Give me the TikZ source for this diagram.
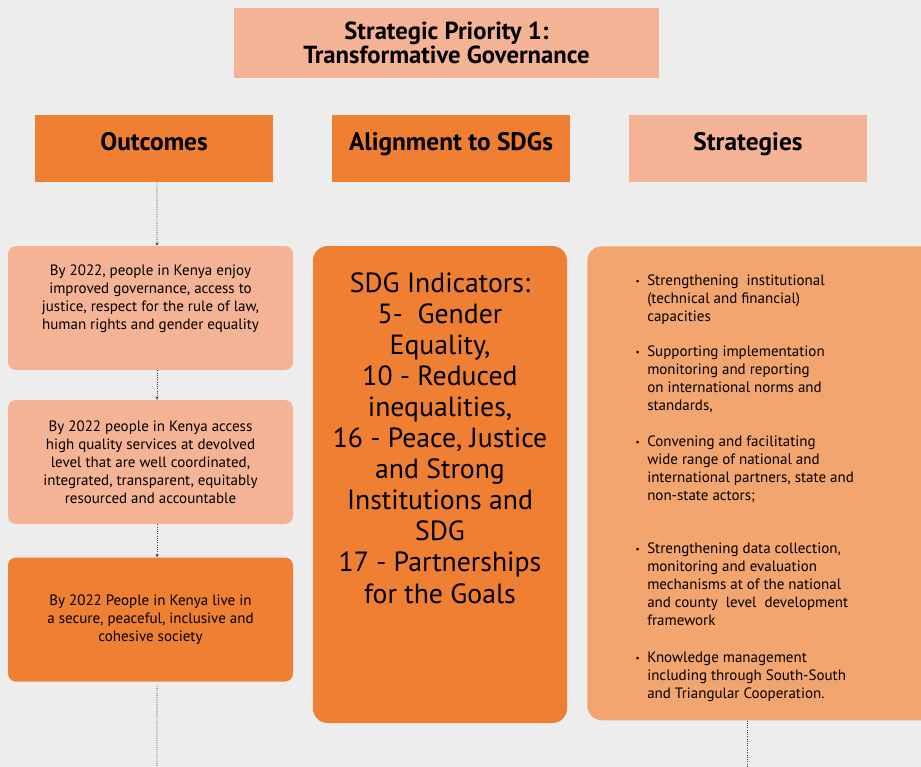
\documentclass[tikz,border=0pt]{standalone}
\usepackage{fontspec}
\setmainfont{PT Sans}
\usetikzlibrary{arrows.meta}
\definecolor{bggray}{HTML}{EDEDED}
\definecolor{darkorange}{HTML}{EE7F33}
\definecolor{salmon}{HTML}{F5B396}
\definecolor{midorange}{HTML}{F2A56F}
\tikzstyle{header}=[rectangle,minimum width=178.5pt,minimum height=50.25pt,inner sep=0pt,text depth=11pt,font=\fontsize{19}{22}\selectfont\bfseries]
\tikzstyle{outbox}=[rectangle,rounded corners=6pt,minimum width=213.75pt,minimum height=93pt,inner sep=0pt,align=center,font=\fontsize{11.25}{13.5}\selectfont]
\tikzstyle{conn}=[densely dotted,line width=0.7pt,draw=black!75]
\tikzstyle{item}=[anchor=north west,inner sep=0pt,align=left,font=\fontsize{11.25}{13.5}\selectfont]
\newcommand{\bul}{\llap{\raisebox{1pt}{\scriptsize\textbullet}\hspace{5.5pt}}}

\begin{document}
\begin{tikzpicture}[x=0.75pt,y=-0.75pt]
		\path[use as bounding box] (0,0) rectangle (921,767);
		\clip (0,0) rectangle (921,767);
		\fill[bggray] (0,0) rectangle (921,767);
		
		% title and column heads
		\node[rectangle,fill=salmon,minimum width=318.75pt,minimum height=52.5pt,inner sep=0pt,align=center,font=\fontsize{18.5}{17.5}\selectfont\bfseries] (title) at (446.5, 43) {Strategic Priority 1:\\Transformative Governance};
		\node[header,fill=darkorange] (outhead) at (154, 148.5) {Outcomes};
		\node[header,fill=darkorange] (sdghead) at (451, 148.5) {Alignment to SDGs};
		\node[header,fill=salmon] (strathead) at (748, 148.5) {Strategies};
		
		% outcomes
		\node[outbox,fill=salmon,text depth=16pt] (o1) at (150.5, 308) {By 2022, people in Kenya enjoy\\improved governance, access to\\justice, respect for the rule of law,\\human rights and gender equality};
		\node[outbox,fill=salmon] (o2) at (150.5, 462) {By 2022 people in Kenya access\\high quality services at devolved\\level that are well coordinated,\\integrated, transparent, equitably\\resourced and accountable};
		\node[outbox,fill=darkorange] (o3) at (150.5, 619.5) {By 2022 People in Kenya live in\\a secure, peaceful, inclusive and\\cohesive society};
		
		% sdg column
		\node[rectangle,rounded corners=11pt,fill=darkorange,minimum width=190.5pt,minimum height=357.75pt,inner sep=0pt,align=center,font=\fontsize{20.8}{23.3}\selectfont,text depth=70pt] (sdg) at (440, 484.5) {SDG Indicators:\\5-\ \ Gender\\Equality,\\10 - Reduced\\inequalities,\\16 - Peace, Justice\\and Strong\\Institutions and\\SDG\\17 - Partnerships\\for the Goals};
		
		% strategies column
		\node[rectangle,rounded corners=11pt,fill=midorange,minimum width=262.5pt,minimum height=355.5pt,inner sep=0pt,anchor=north west] (strat) at (587, 246) {};
		\node[item] (s1) at (647, 275) {\bul Strengthening\ \ institutional\\(technical and financial)\\capacities};
		\node[item] (s2) at (647, 346) {\bul Supporting implementation\\monitoring and reporting\\on international norms and\\standards,};
		\node[item] (s3) at (647, 436) {\bul Convening and facilitating\\wide range of national and\\international partners, state and\\non-state actors;};
		\node[item] (s4) at (647, 543) {\bul Strengthening data collection,\\monitoring and evaluation\\mechanisms at of the national\\and county\ \ level\ \ development\\framework};
		\node[item] (s5) at (647, 652) {\bul Knowledge management\\including through South-South\\and Triangular Cooperation.};
		
		\coordinate (endl) at (157, 767);
		\coordinate (endr) at (747, 767);
		
		\draw[conn,-{Stealth[length=2.5pt,width=2.5pt]}] ([xshift=2.25pt]outhead.south) -- ([xshift=4.9pt]o1.north);
		\draw[conn,-{Stealth[length=2.5pt,width=2.5pt]}] ([xshift=4.9pt]o1.south) -- ([xshift=4.9pt]o2.north);
		\draw[conn,-{Stealth[length=2.5pt,width=2.5pt]}] ([xshift=4.9pt]o2.south) -- ([xshift=4.9pt]o3.north);
		\draw[conn] ([xshift=4.9pt,yshift=-3pt]o3.south) -- (endl);
		\draw[conn] (strat.south -| endr) -- (endr);
		
\end{tikzpicture}
\end{document}
